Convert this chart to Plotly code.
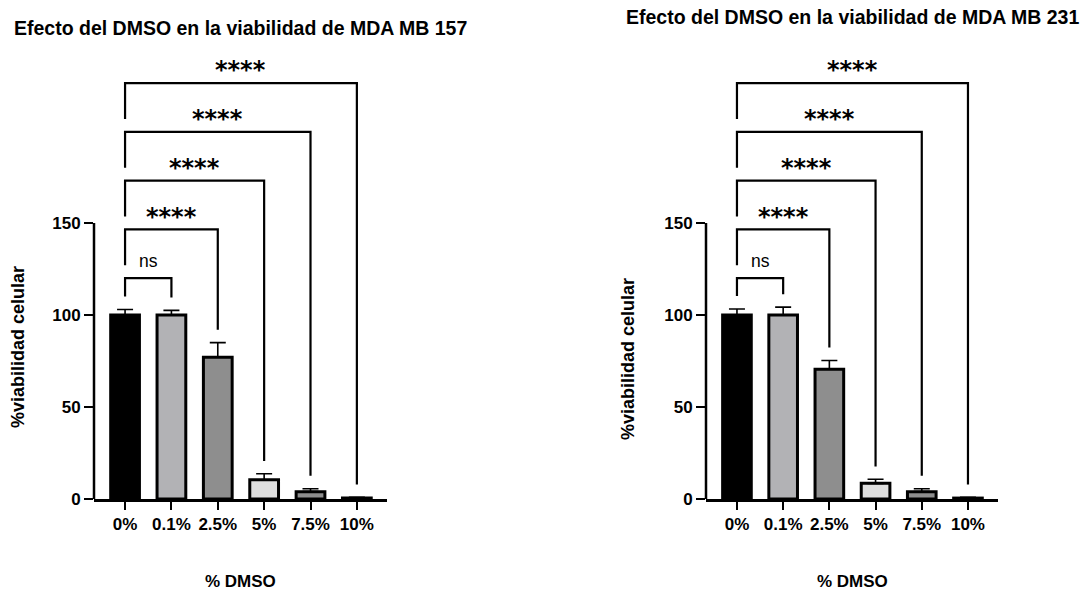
import plotly.graph_objects as go

# Treatment groups (DMSO concentration)
categories = ["0%", "0.1%", "2.5%", "5%", "7.5%", "10%"]

# Cell viability (%) with SEM, MDA MB 157
via_157 = [100, 100, 77, 10.5, 4, 0.5]
err_157 = [3, 2.5, 8, 3.2, 1.6, 0.4]

# Cell viability (%) with SEM, MDA MB 231
via_231 = [100, 100, 70.5, 8.5, 4, 0.5]
err_231 = [3.3, 4.3, 4.8, 2.2, 1.6, 0.4]

# Multiple comparisons vs. 0% control: (target group index, significance label)
comparisons = [(1, "ns"), (2, "****"), (3, "****"), (4, "****"), (5, "****")]

titles = ["Efecto del DMSO en la viabilidad de MDA MB 157",
          "Efecto del DMSO en la viabilidad de MDA MB 231"]

bar_colors = ["#000000", "#b2b2b5", "#8e8e8e", "#dedede", "#8e8e8e", "#cfcfcf"]

W, H = 1084, 593
FONT = "Liberation Sans, Arial, sans-serif"
STAR_FONT = "DejaVu Sans, sans-serif"

# pixel layout of the two panels
panels = [
    dict(x0=94, x1=387, title_x=12, title_y=28, ytitle_x=18, ytitle_y=347),
    dict(x0=706, x1=998, title_x=624, title_y=17, ytitle_x=628, ytitle_y=359),
]
y_bottom_px, y_top_px = 499, 40
px_per_unit = 1.84
y_max = (y_bottom_px - y_top_px) / px_per_unit

fig = go.Figure()
datasets = [(via_157, err_157), (via_231, err_231)]

for k, ((vals, errs), p) in enumerate(zip(datasets, panels)):
    xa = "x" if k == 0 else "x2"
    ya = "y" if k == 0 else "y2"
    fig.add_trace(go.Bar(
        x=list(range(len(categories))), y=vals,
        xaxis=xa, yaxis=ya,
        width=0.62,
        marker=dict(color=bar_colors, line=dict(color="#000000", width=3)),
        error_y=dict(type="data", array=errs, arrayminus=[0] * len(errs),
                     symmetric=False, color="#000000", thickness=1.6, width=8),
        showlegend=False, hoverinfo="skip",
    ))

    xkey = "xaxis" if k == 0 else "xaxis2"
    ykey = "yaxis" if k == 0 else "yaxis2"
    fig.update_layout({
        xkey: dict(
            domain=[p["x0"] / W, p["x1"] / W], anchor=ya,
            range=[-0.67, 5.65], automargin=False,
            tickmode="array", tickvals=list(range(len(categories))),
            ticktext=[f"<b>{c}</b>" for c in categories],
            ticks="outside", ticklen=8, tickwidth=2, tickcolor="#000",
            showline=True, linewidth=2.5, linecolor="#000",
            showgrid=False, zeroline=False,
            tickfont=dict(family=FONT, size=17, color="#000"),
        ),
        ykey: dict(
            domain=[(H - y_bottom_px) / H, (H - y_top_px) / H], anchor=xa,
            range=[0, y_max], automargin=False,
            tickmode="array", tickvals=[0, 50, 100, 150],
            ticktext=["<b>0</b>", "<b>50</b>", "<b>100</b>", "<b>150</b>"],
            ticks="outside", ticklen=9, tickwidth=2, tickcolor="#000",
            showline=False, showgrid=False, zeroline=False,
            tickfont=dict(family=FONT, size=17, color="#000"),
        ),
    })

    # y axis line only spans 0-150
    fig.add_shape(type="line", xref=f"{xa} domain", yref=ya,
                  x0=0, x1=0, y0=-0.7, y1=150,
                  line=dict(color="#000", width=2.5))

    # significance brackets
    top0 = vals[0] + errs[0]
    for i, (tgt, label) in enumerate(comparisons):
        h = 120 + 26.5 * i
        left_bottom = top0 + 7 if i == 0 else h - 19.5
        right_bottom = vals[tgt] + errs[tgt] + 7
        fig.add_shape(type="path", xref=xa, yref=ya,
                      path=f"M 0,{left_bottom} L 0,{h} L {tgt},{h} L {tgt},{right_bottom}",
                      line=dict(color="#000", width=2.2))
        if label == "ns":
            fig.add_annotation(x=tgt / 2, y=h + 9.5, xref=xa, yref=ya,
                               text="ns", showarrow=False, yanchor="middle",
                               font=dict(family=FONT, size=17.5, color="#000"))
        else:
            fig.add_annotation(x=tgt / 2, y=h + 7, xref=xa, yref=ya,
                               text=f"<b>{label}</b>", showarrow=False,
                               yanchor="middle",
                               font=dict(family=STAR_FONT, size=24, color="#000"))

    # titles
    fig.add_annotation(x=p["title_x"] / W, y=1 - p["title_y"] / H,
                       xref="paper", yref="paper", xanchor="left", yanchor="middle",
                       text=f"<b>{titles[k]}</b>", showarrow=False,
                       font=dict(family=FONT, size=19.5, color="#000"))
    fig.add_annotation(x=p["ytitle_x"] / W, y=1 - p["ytitle_y"] / H,
                       xref="paper", yref="paper", xanchor="center", yanchor="middle",
                       text="<b>%viabilidad celular</b>", textangle=-90, showarrow=False,
                       font=dict(family=FONT, size=18, color="#000"))
    fig.add_annotation(x=(p["x0"] + p["x1"]) / 2 / W, y=1 - 581 / H,
                       xref="paper", yref="paper", xanchor="center", yanchor="middle",
                       text="<b>% DMSO</b>", showarrow=False,
                       font=dict(family=FONT, size=17, color="#000"))

fig.update_layout(
    width=W, height=H,
    margin=dict(l=0, r=0, t=0, b=0, autoexpand=False),
    plot_bgcolor="#ffffff", paper_bgcolor="#ffffff",
    bargap=0.3,
)

fig.write_html("out.html")
